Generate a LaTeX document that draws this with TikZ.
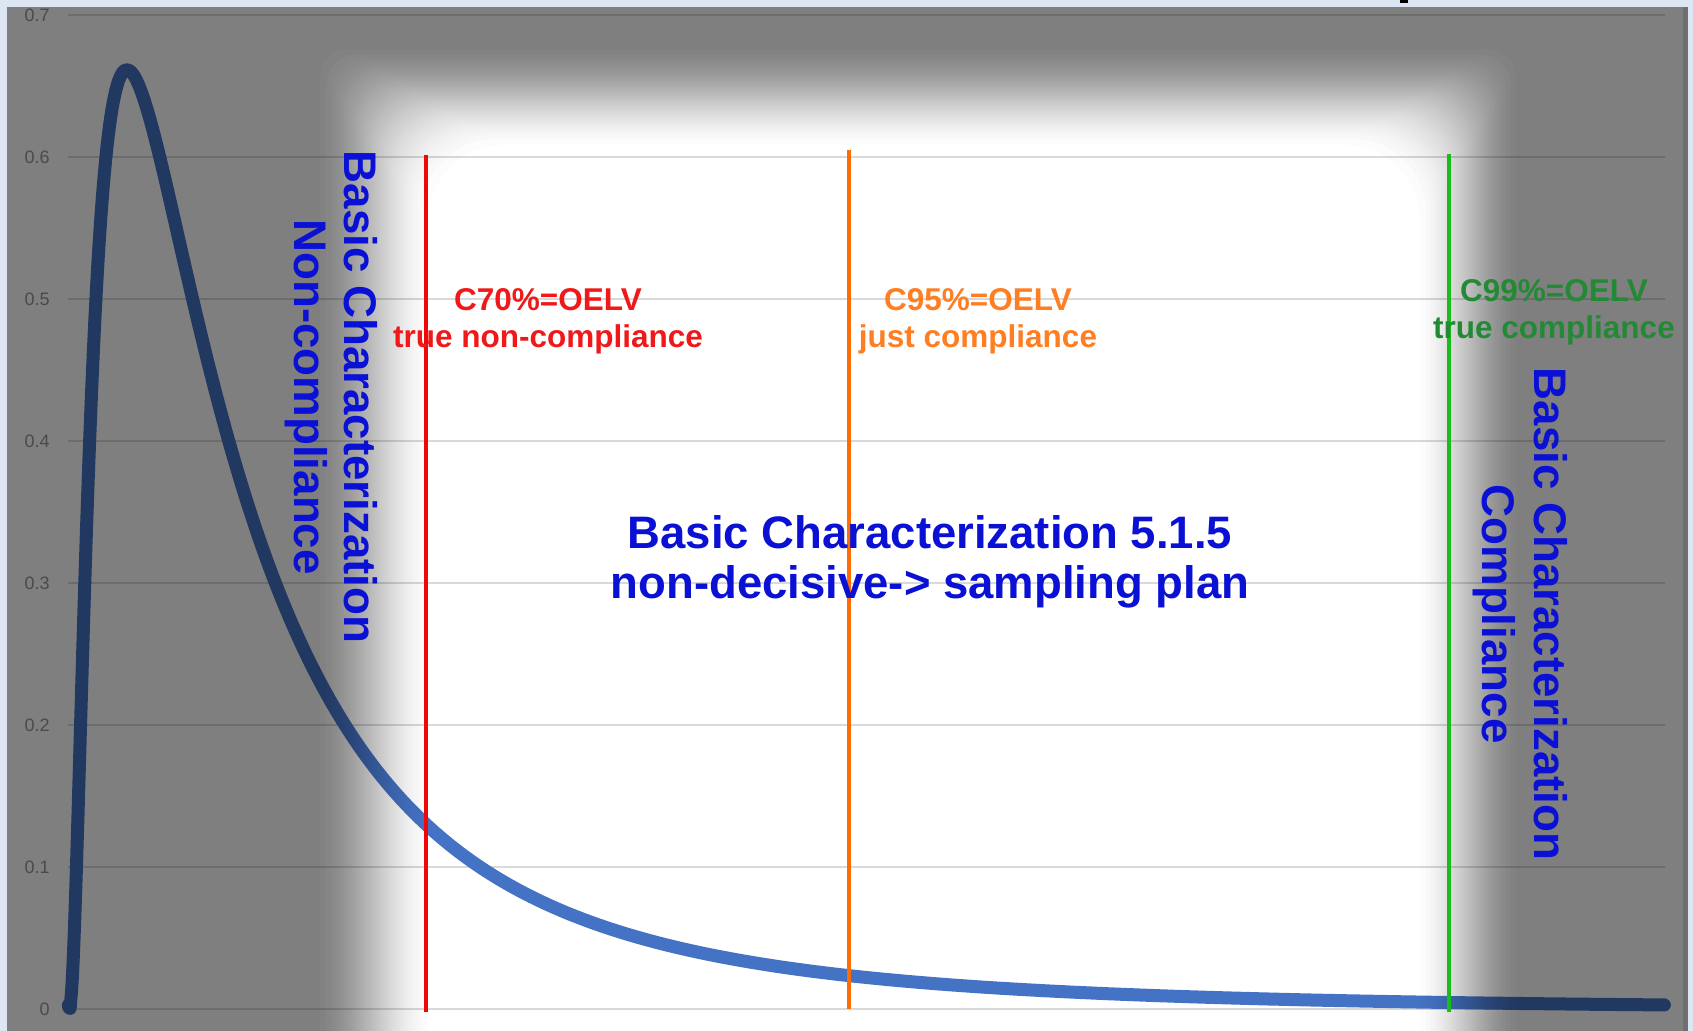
\documentclass[tikz,border=0pt]{standalone}
\usepackage{fontspec}
\usetikzlibrary{fadings}
\setmainfont{Liberation Sans}
\definecolor{frameblue}{RGB}{221,231,243}
\definecolor{gridgray}{RGB}{217,217,217}
\definecolor{curveblue}{RGB}{68,114,196}
\definecolor{txtblue}{RGB}{10,16,212}
\definecolor{lnred}{RGB}{238,8,8}
\definecolor{txtred}{RGB}{240,24,24}
\definecolor{lnorange}{RGB}{255,108,4}
\definecolor{txtorange}{RGB}{255,126,34}
\definecolor{lngreen}{RGB}{24,190,24}
\definecolor{txtgreen}{RGB}{34,138,52}
\definecolor{ticktxt}{RGB}{150,150,150}
% soft spotlight mask: white = dark overlay shown, black = clear
\begin{tikzfadingfrompicture}[name=spotmask,x=0.5pt,y=-0.5pt]
  \useasboundingbox (7,7) rectangle (1688,1031);
  \fill[transparent!0] (7,7) rectangle (1688,1031);
  \foreach \k in {1,...,40}{
    \pgfmathsetmacro{\s}{(\k-0.5)/40}
    \pgfmathsetmacro{\q}{0.5-sin(asin(1-2*\s)/3)}
    \pgfmathsetmacro{\hl}{374+62*(2*\q-1)}
    \pgfmathsetmacro{\hr}{1468-55*(2*\q-1)}
    \pgfmathsetmacro{\ht}{97+55*(2*\q-1)}
    \pgfmathsetmacro{\hb}{1170-50*(2*\q-1)}
    \pgfmathsetmacro{\rr}{12+28*\q}
    \pgfmathsetmacro{\pp}{100*\k/40}
    \fill[transparent!\pp,rounded corners=\rr pt] (\hl,\ht) rectangle (\hr,\hb);
  }
\end{tikzfadingfrompicture}
\begin{document}
\begin{tikzpicture}[x=0.5pt,y=-0.5pt,
  declare function={lgn(\t)=64.3/\t*exp(-0.5*(ln(\t)-5.077)*(ln(\t)-5.077));},
  gridln/.style={draw=gridgray,line width=1pt},
  curveln/.style={draw=curveblue,line width=6.5pt,line cap=round,line join=round},
  ticklbl/.style={font=\fontsize{9}{10}\selectfont,text=ticktxt,inner sep=0,anchor=east},
  oelv/.style={line width=2.3pt},
  smalltxt/.style={font=\bfseries\fontsize{15.75}{18}\selectfont,inner sep=0,anchor=base},
  bigtxt/.style={font=\bfseries\fontsize{22.75}{27}\selectfont,text=txtblue,inner sep=0,anchor=base},
  vtxt/.style={font=\bfseries\fontsize{22.85}{27}\selectfont,text=txtblue,inner sep=0,anchor=base,rotate=-90}]
\useasboundingbox (0,0) rectangle (1693,1031);
% frame and chart area
\fill[frameblue] (0,0) rectangle (1693,1031);
\fill[white] (7,7) rectangle (1688,1031);
% grid lines and tick labels
\foreach \k/\v in {0/0,1/0.1,2/0.2,3/0.3,4/0.4,5/0.5,6/0.6,7/0.7}{
  \pgfmathsetmacro{\yy}{1009-142*\k}
  \draw[gridln] (68,\yy) -- (1665,\yy);
  \node[ticklbl] (tick\k) at (50,\yy) {\v};
}
% lognormal curve
\draw[curveln] plot[domain=0.6:39.96,samples=400,variable=\u] ({68+\u*\u},{1009-1420*lgn(\u*\u)});
% spotlight overlay
\fill[black,opacity=0.5,path fading=spotmask,fit fading=false,
      fading transform={shift={(847.5,519)}}] (7,7) rectangle (1688,1031);
\fill[black,opacity=0.12] (1683,7) rectangle (1688,1031);
\fill[black] (1400,0) rectangle (1408,3);
% OELV lines
\coordinate (rtop) at (426,155); \coordinate (rbot) at (426,1012);
\coordinate (otop) at (849,150); \coordinate (obot) at (849,1009);
\coordinate (gtop) at (1449,154); \coordinate (gbot) at (1449,1012);
\draw[oelv,lnred] (rtop) -- (rbot);
\draw[oelv,lnorange] (otop) -- (obot);
\draw[oelv,lngreen] (gtop) -- (gbot);
% labels of the lines
\node[smalltxt,text=txtred] (red1) at (548,311) {C70\%=OELV};
\node[smalltxt,text=txtred] (red2) at (548,348) {true non-compliance};
\node[smalltxt,text=txtorange] (or1) at (978,311) {C95\%=OELV};
\node[smalltxt,text=txtorange] (or2) at (978,348) {just compliance};
\node[smalltxt,text=txtgreen] (gr1) at (1554,302) {C99\%=OELV};
\node[smalltxt,text=txtgreen] (gr2) at (1554,339) {true compliance};
% central text
\node[bigtxt] (mid1) at (930,549) {Basic Characterization 5.1.5};
\node[bigtxt] (mid2) at (930,599) {non-decisive-> sampling plan};
% vertical texts
\node[vtxt] (left1) at (344,397) {Basic Characterization};
\node[vtxt] (left2) at (294,397) {Non-compliance};
\node[vtxt] (right1) at (1534,614) {Basic Characterization};
\node[vtxt] (right2) at (1482,614) {Compliance};
\end{tikzpicture}
\end{document}
